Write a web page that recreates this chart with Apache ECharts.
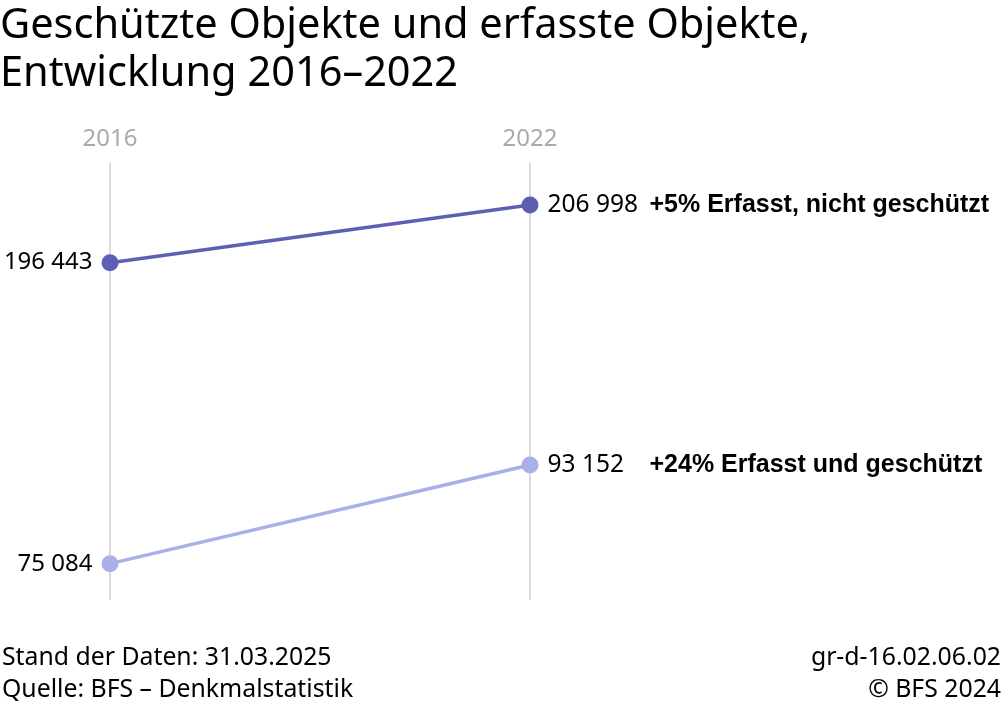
<!DOCTYPE html>
<html><head><meta charset="utf-8">
<script src="https://cdn.jsdelivr.net/npm/echarts@6/dist/echarts.min.js"></script>
<style>html,body{margin:0;padding:0;background:#fff}#c{width:1004px;height:701px}</style>
</head><body><div id="c"></div>
<script>
const years = ['2016', '2022'];
const notProtected = [196443, 206998];
const protectedObj = [75084, 93152];
const changeNotProtected = '+5%';
const changeProtected = '+24%';
const nameNotProtected = 'Erfasst, nicht geschützt';
const nameProtected = 'Erfasst und geschützt';

const fmt = v => String(v).replace(/\B(?=(\d{3})+(?!\d))/g, ' ');
const F = '"Noto Sans", sans-serif';

function mkData(vals, change, name) {
  return vals.map((v, i) => {
    if (i === 0) {
      return { value: v, label: { show: true, position: 'left', distance: 9, formatter: () => fmt(v),
        color: '#000', fontFamily: F, fontSize: 24 } };
    }
    return { value: v, label: { show: true, position: 'right', distance: 9,
      formatter: () => '{n|' + fmt(v) + '}{d|' + change + ' ' + name + '}',
      rich: {
        n: { width: 102, color: '#000', fontFamily: F, fontSize: 24.5 },
        d: { color: '#000', fontFamily: '"Liberation Sans", Arial, sans-serif', fontWeight: 'bold', fontSize: 25 }
      } } };
  });
}

const footStyle = { fontFamily: F, fontSize: 24.8, fill: '#000' };

const chart = echarts.init(document.getElementById('c'), null, { renderer: 'canvas' });
chart.setOption({
  animation: false,
  backgroundColor: '#fff',
  title: [
    { text: 'Geschützte Objekte und erfasste Objekte,\nEntwicklung 2016–2022', left: 0, top: 2, padding: 0,
      textStyle: { fontFamily: F, fontSize: 41.5, fontWeight: 'normal', color: '#000', lineHeight: 48 } }
  ],
  graphic: [
    { type: 'text', left: 2, top: 645, style: Object.assign({ text: 'Stand der Daten: 31.03.2025' }, footStyle) },
    { type: 'text', left: 2, top: 677, style: Object.assign({ text: 'Quelle: BFS – Denkmalstatistik' }, footStyle) },
    { type: 'text', right: 3, top: 645, style: Object.assign({ text: 'gr-d-16.02.06.02' }, footStyle) },
    { type: 'text', right: 3, top: 677, style: Object.assign({ text: '© BFS 2024' }, footStyle) }
  ],
  grid: { left: 110, right: 474, top: 163, bottom: 101 },
  xAxis: {
    type: 'category', data: years, position: 'top', boundaryGap: false,
    axisLine: { show: false }, axisTick: { show: false },
    axisLabel: { color: '#aaa', fontFamily: F, fontSize: 24, margin: 12 },
    splitLine: { show: true, lineStyle: { color: '#cfcfcf', width: 1.5 } }
  },
  yAxis: [
    { type: 'value', min: 134686, max: 214686, show: false, splitLine: { show: false } },
    { type: 'value', min: 68433, max: 148433, show: false, splitLine: { show: false } }
  ],
  series: [
    { type: 'line', yAxisIndex: 0, data: mkData(notProtected, changeNotProtected, nameNotProtected),
      symbol: 'circle', symbolSize: 17, color: '#5D5FB4',
      lineStyle: { width: 3.5, color: '#5D5FB4' }, itemStyle: { color: '#5D5FB4' } },
    { type: 'line', yAxisIndex: 1, data: mkData(protectedObj, changeProtected, nameProtected),
      symbol: 'circle', symbolSize: 17, color: '#A9B0E6',
      lineStyle: { width: 3.5, color: '#A9B0E6' }, itemStyle: { color: '#A9B0E6' } }
  ]
});
</script></body></html>
